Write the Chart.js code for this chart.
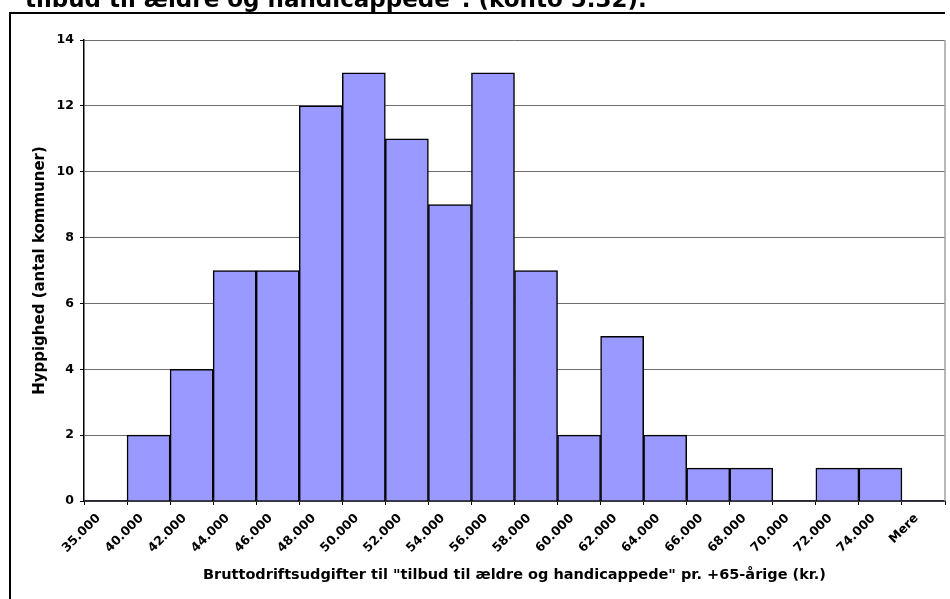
<!DOCTYPE html>
<html>
<head>
<meta charset="utf-8">
<script src="https://cdn.jsdelivr.net/npm/chart.js@4/dist/chart.umd.min.js"></script>
<style>
  html, body { margin: 0; padding: 0; background: #fff; }
  #wrap { position: relative; width: 950px; height: 599px; overflow: hidden; }
  #title { position: absolute; left: 25px; top: -12.5px; font: bold 23px "DejaVu Sans", Verdana, sans-serif; line-height: 23px; white-space: nowrap; color: #000; }
  canvas { position: absolute; left: 0; top: 0; }
</style>
</head>
<body>
<div id="wrap">
  <canvas id="c" width="950" height="599"></canvas>
  <div id="title">tilbud til ældre og handicappede". (konto 5.32).</div>
</div>
<script>
const categories = ["35.000","40.000","42.000","44.000","46.000","48.000","50.000","52.000","54.000","56.000","58.000","60.000","62.000","64.000","66.000","68.000","70.000","72.000","74.000","Mere"];
const frequencies = [0,2,4,7,7,12,13,11,9,13,7,2,5,2,1,1,0,1,1,0];
const yTicks = [0,2,4,6,8,10,12,14];
const xTitle = 'Bruttodriftsudgifter til "tilbud til ældre og handicappede" pr. +65-årige (kr.)';
const yTitle = 'Hyppighed (antal kommuner)';

const FONT = '"DejaVu Sans", Verdana, sans-serif';

const frame = {
  id: 'frame',
  afterDraw(chart) {
    const ctx = chart.ctx, a = chart.chartArea;
    ctx.save();
    ctx.strokeStyle = '#a0a0a0';
    ctx.lineWidth = 1.5;
    ctx.beginPath();
    ctx.moveTo(a.right, a.top);
    ctx.lineTo(a.right, a.bottom);
    ctx.stroke();
    ctx.strokeStyle = '#000';
    ctx.lineWidth = 2;
    ctx.beginPath();
    ctx.moveTo(10, 600);
    ctx.lineTo(10, 13);
    ctx.lineTo(945, 13);
    ctx.stroke();
    ctx.restore();
  }
};

new Chart(document.getElementById('c'), {
  type: 'bar',
  data: {
    labels: categories,
    datasets: [{
      data: frequencies,
      backgroundColor: '#9999FF',
      borderColor: '#000',
      borderWidth: (c) => (c.raw ? 1.5 : 0),
      borderSkipped: 'bottom',
      barPercentage: 1,
      categoryPercentage: 1
    }]
  },
  options: {
    responsive: false,
    animation: false,
    events: [],
    layout: { padding: { top: 40, right: 5, bottom: 0, left: 0 } },
    plugins: { legend: { display: false }, tooltip: { enabled: false } },
    scales: {
      x: {
        offset: true,
        grid: { offset: true, drawOnChartArea: false, drawTicks: true, tickLength: 4, color: '#000', lineWidth: 1 },
        border: { color: '#000', width: 1.5 },
        ticks: { color: '#000', font: { family: FONT, size: 12.5, weight: 'bold' }, minRotation: 45, maxRotation: 45, autoSkip: false, padding: 6, labelOffset: -7 },
        title: { display: true, text: xTitle, color: '#000', font: { family: FONT, size: 14.5, weight: 'bold' }, padding: { top: 0, bottom: 15 } },
        afterFit(s) { s.height = 98; }
      },
      y: {
        min: 0, max: 14,
        afterBuildTicks(s) { s.ticks = yTicks.map(v => ({ value: v })); },
        grid: { color: '#6e6e6e', lineWidth: 1, tickLength: 4, tickColor: '#000' },
        border: { color: '#000', width: 1.5 },
        ticks: { color: '#000', font: { family: FONT, size: 12.5, weight: 'bold' }, padding: 6 },
        title: { display: true, text: yTitle, color: '#000', font: { family: FONT, size: 15, weight: 'bold' }, padding: { top: 31, bottom: 0 } },
        afterFit(s) { s.width = 84; }
      }
    }
  },
  plugins: [frame]
});
</script>
</body>
</html>
